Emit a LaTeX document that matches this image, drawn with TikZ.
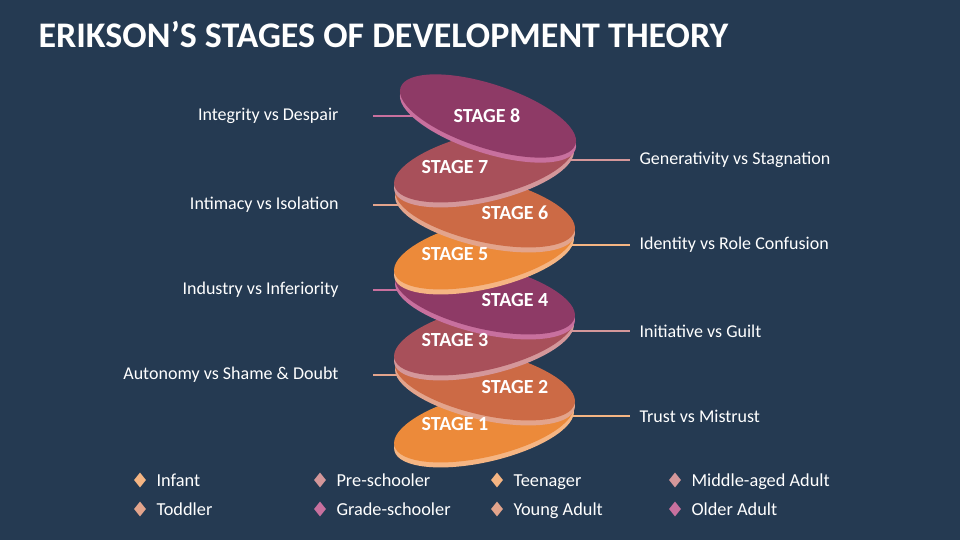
\documentclass[tikz,border=0pt]{standalone}
\usepackage{fontspec}
\usetikzlibrary{shapes.geometric}
\setmainfont{Carlito}
\definecolor{bg}{HTML}{253A52}
\definecolor{cA}{HTML}{8E3A66}\definecolor{eA}{HTML}{C8709E}
\definecolor{cB}{HTML}{A8505A}\definecolor{eB}{HTML}{D4979A}
\definecolor{cC}{HTML}{CC6A45}\definecolor{eC}{HTML}{E3A48C}
\definecolor{cD}{HTML}{EC8A3A}\definecolor{eD}{HTML}{F5B583}
\begin{document}
\begin{tikzpicture}[x=1pt,y=-1pt,
  lbl/.style={text=white,font=\fontsize{18}{20}\selectfont},
  stg/.style={text=white,font=\bfseries\fontsize{20}{22}\selectfont},
  leg/.style={text=white,font=\fontsize{18.3}{20}\selectfont,anchor=base west},
  conn/.style={line width=1.5pt},
  dia/.style={diamond,minimum width=12pt,minimum height=15pt,inner sep=0pt}]
\useasboundingbox (0,0) rectangle (960,540);
\fill[bg] (0,0) rectangle (960,540);
\node[anchor=west,text=white,font=\bfseries\fontsize{36}{38}\selectfont] (title) at (35,35) {ERIKSON’S STAGES OF DEVELOPMENT THEORY};
% connectors (drawn under discs)
\foreach \n/\y/\c in {l8/116/eA,l6/205/eC,l4/290/eA,l2/375/eC}{
  \coordinate (\n a) at (373,\y); \coordinate (\n b) at (425,\y);
  \draw[conn,\c] (\n a) -- (\n b);}
\foreach \n/\y/\c in {r7/160/eB,r5/245/eD,r3/331/eB,r1/416/eD}{
  \coordinate (\n a) at (560,\y); \coordinate (\n b) at (630,\y);
  \draw[conn,\c] (\n a) -- (\n b);}
% discs
\foreach \i/\x/\y/\r/\c/\e in {
  1/484/425/13/cD/eD, 2/485/383/-13/cC/eC, 3/484/338/13/cB/eB, 4/485/297/-13/cA/eA,
  5/484/252/13/cD/eD, 6/485/210/-13/cC/eC, 7/484/165/13/cB/eB, 8/488/116/-18/cA/eA}{
  \fill[\e] (\x,\y+5) ellipse[x radius=92,y radius=32,rotate=\r];
  \fill[\c] (\x,\y) ellipse[x radius=92,y radius=32,rotate=\r];}
\foreach \i/\tx/\ty in {1/455/424,2/515/387,3/455/340,4/515/300,5/455/254,6/515/213,7/455/167,8/487/116}{
  \node[stg] (s\i) at (\tx,\ty) {STAGE \i};}
% labels
\node[lbl,anchor=east] (t8) at (342,116) {Integrity vs Despair};
\node[lbl,anchor=east] (t6) at (342,205) {Intimacy vs Isolation};
\node[lbl,anchor=east] (t4) at (342,290) {Industry vs Inferiority};
\node[lbl,anchor=east] (t2) at (342,375) {Autonomy vs Shame \& Doubt};
\node[lbl,anchor=west] (t7) at (636,160) {Generativity vs Stagnation};
\node[lbl,anchor=west] (t5) at (636,245) {Identity vs Role Confusion};
\node[lbl,anchor=west] (t3) at (636,331) {Initiative vs Guilt};
\node[lbl,anchor=west] (t1) at (636,416) {Trust vs Mistrust};
% legend
\foreach \k/\x/\y/\c/\t in {a/140/480/eD/Infant,b/140/509/eC/Toddler,
  c/320/480/eB/Pre-schooler,d/320/509/eA/Grade-schooler,
  e/497/480/eD/Teenager,f/497/509/eC/Young Adult,
  g/675/480/eB/Middle-aged Adult,h/675/509/eA/Older Adult}{
  \node[dia,fill=\c] (d\k) at (\x,\y) {};
  \node[leg] (g\k) at (\x+13,\y+6.5) {\t};}
\end{tikzpicture}
\end{document}
